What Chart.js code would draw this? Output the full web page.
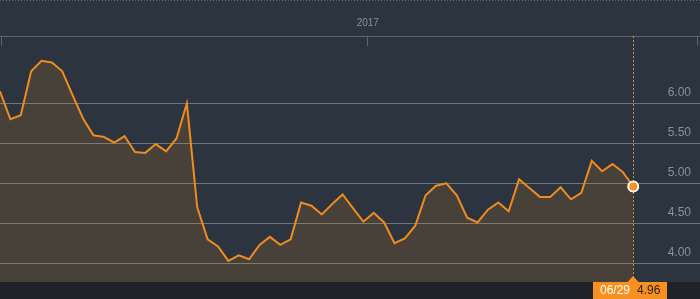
<!DOCTYPE html>
<html>
<head>
<meta charset="utf-8">
<style>
  html, body { margin: 0; padding: 0; background: #1f2327; }
  #wrap { width: 700px; height: 299px; }
</style>
<script src="https://cdn.jsdelivr.net/npm/chart.js@4.4.0/dist/chart.umd.min.js"></script>
</head>
<body>
<div id="wrap"><canvas id="priceChart" width="700" height="299"></canvas></div>
<script>
// Weekly closing prices, last one is 06/29/2017
const lastDate = "2017-06-29";
const lastLabel = "06/29";
const prices = [
    6.15, 5.80, 5.85, 6.40, 6.53, 6.51, 6.40, 6.10, 5.81, 5.60,
    5.58, 5.51, 5.59, 5.39, 5.38, 5.49, 5.40, 5.56, 6.00, 4.70,
    4.30, 4.21, 4.03, 4.10, 4.05, 4.23, 4.33, 4.23, 4.30, 4.76,
    4.72, 4.61, 4.74, 4.86, 4.69, 4.52, 4.63, 4.51, 4.25, 4.31,
    4.47, 4.85, 4.97, 5.00, 4.85, 4.57, 4.51, 4.67, 4.76, 4.65,
    5.05, 4.94, 4.83, 4.83, 4.95, 4.80, 4.88, 5.28, 5.15, 5.24,
    5.14, 4.96,
];
const yTickValues = [4.0, 4.5, 5.0, 5.5, 6.0];
const yearLabel = "2017";
const yearStart = "2017-01-01";

const DAY = 86400000;
const endMs = Date.parse(lastDate);
const yearMs = Date.parse(yearStart);
// one point per week, ending on lastDate
const points = prices.map((p, i) => ({ x: endMs - (prices.length - 1 - i) * 7 * DAY, y: p }));
const xMin = points[0].x;
const xMax = endMs + 45 * DAY;
const lastIndex = prices.length - 1;

const FONT = "'Liberation Sans', Arial, sans-serif";

// background, crosshair and the value box at the bottom
const decorPlugin = {
    id: "decor",
    beforeDraw(chart) {
        const { ctx, chartArea } = chart;
        ctx.save();
        ctx.fillStyle = "#2b343f";
        ctx.fillRect(0, 0, chart.width, chartArea.bottom);
        ctx.strokeStyle = "rgba(230, 170, 110, 0.45)";
        ctx.setLineDash([1, 2]);
        ctx.beginPath();
        ctx.moveTo(0, 0.5);
        ctx.lineTo(chart.width, 0.5);
        ctx.stroke();
        ctx.restore();
    },
    beforeDatasetsDraw(chart) {
        const { ctx, chartArea, scales } = chart;
        const px = Math.round(scales.x.getPixelForValue(endMs)) + 0.5;
        ctx.save();
        ctx.strokeStyle = "#c9932f";
        ctx.lineWidth = 1;
        ctx.setLineDash([2, 2]);
        ctx.beginPath();
        ctx.moveTo(px, chartArea.top);
        ctx.lineTo(px, chartArea.bottom);
        ctx.stroke();
        ctx.restore();
    },
    afterDraw(chart) {
        const { ctx, chartArea, scales } = chart;
        const px = Math.round(scales.x.getPixelForValue(endMs));
        const top = chartArea.bottom;
        ctx.save();
        ctx.fillStyle = "#f7901e";
        ctx.fillRect(px - 40, top, 74, chart.height - top);
        ctx.beginPath();
        ctx.moveTo(px - 6, top + 0.5);
        ctx.lineTo(px, top - 6);
        ctx.lineTo(px + 6, top + 0.5);
        ctx.closePath();
        ctx.fill();
        ctx.font = "12px " + FONT;
        ctx.textBaseline = "middle";
        ctx.textAlign = "left";
        ctx.fillStyle = "#ffffff";
        ctx.fillText(lastLabel, px - 33, top + 9);
        ctx.fillStyle = "#2a2118";
        ctx.fillText(prices[lastIndex].toFixed(2), px + 4, top + 9);
        ctx.restore();
    },
};

const config = {
    type: "line",
    data: {
        datasets: [
            {
                data: points,
                borderColor: "#f08c1e",
                borderWidth: 2,
                backgroundColor: "rgba(240, 140, 30, 0.15)",
                fill: "start",
                tension: 0,
                pointRadius: (c) => (c.dataIndex === lastIndex ? 5 : 0),
                pointHoverRadius: 0,
                pointBackgroundColor: "#f7901e",
                pointBorderColor: "#ffffff",
                pointBorderWidth: 2,
            },
        ],
    },
    options: {
        responsive: false,
        animation: false,
        events: [],
        layout: { autoPadding: false, padding: { left: 0, right: 0, top: 0, bottom: 17 } },
        plugins: {
            legend: { display: false },
            tooltip: { enabled: false },
        },
        scales: {
            x: {
                type: "linear",
                position: "top",
                min: xMin,
                max: xMax,
                afterBuildTicks: (scale) => {
                    scale.ticks = [
                        { value: xMin + DAY },
                        { value: yearMs },
                        { value: xMax - 1.4 * DAY },
                    ];
                },
                afterFit: (scale) => {
                    scale.height = 36;
                    scale.paddingLeft = 0;
                    scale.paddingRight = 0;
                },
                grid: {
                    drawOnChartArea: false,
                    drawTicks: true,
                    tickLength: -10,
                    color: "#5d646b",
                },
                border: { display: true, color: "#5d646b", width: 1 },
                ticks: {
                    autoSkip: false,
                    maxRotation: 0,
                    padding: 17,
                    color: "#8a9199",
                    font: { family: FONT, size: 10 },
                    callback: (v) => (v === yearMs ? yearLabel : ""),
                },
            },
            y: {
                position: "right",
                min: 3.766,
                max: 6.841,
                afterBuildTicks: (scale) => {
                    scale.ticks = yTickValues.map((v) => ({ value: v }));
                },
                afterFit: (scale) => {
                    scale.width = 0;
                },
                grid: {
                    drawTicks: false,
                    color: "rgba(255, 255, 255, 0.32)",
                },
                border: { display: false },
                ticks: {
                    mirror: true,
                    padding: -9,
                    labelOffset: -11,
                    color: "#8a9199",
                    font: { family: FONT, size: 12 },
                    callback: (v) => Number(v).toFixed(2),
                },
            },
        },
    },
    plugins: [decorPlugin],
};

const ctx = document.getElementById("priceChart").getContext("2d");
const priceChart = new Chart(ctx, config);
</script>
</body>
</html>
